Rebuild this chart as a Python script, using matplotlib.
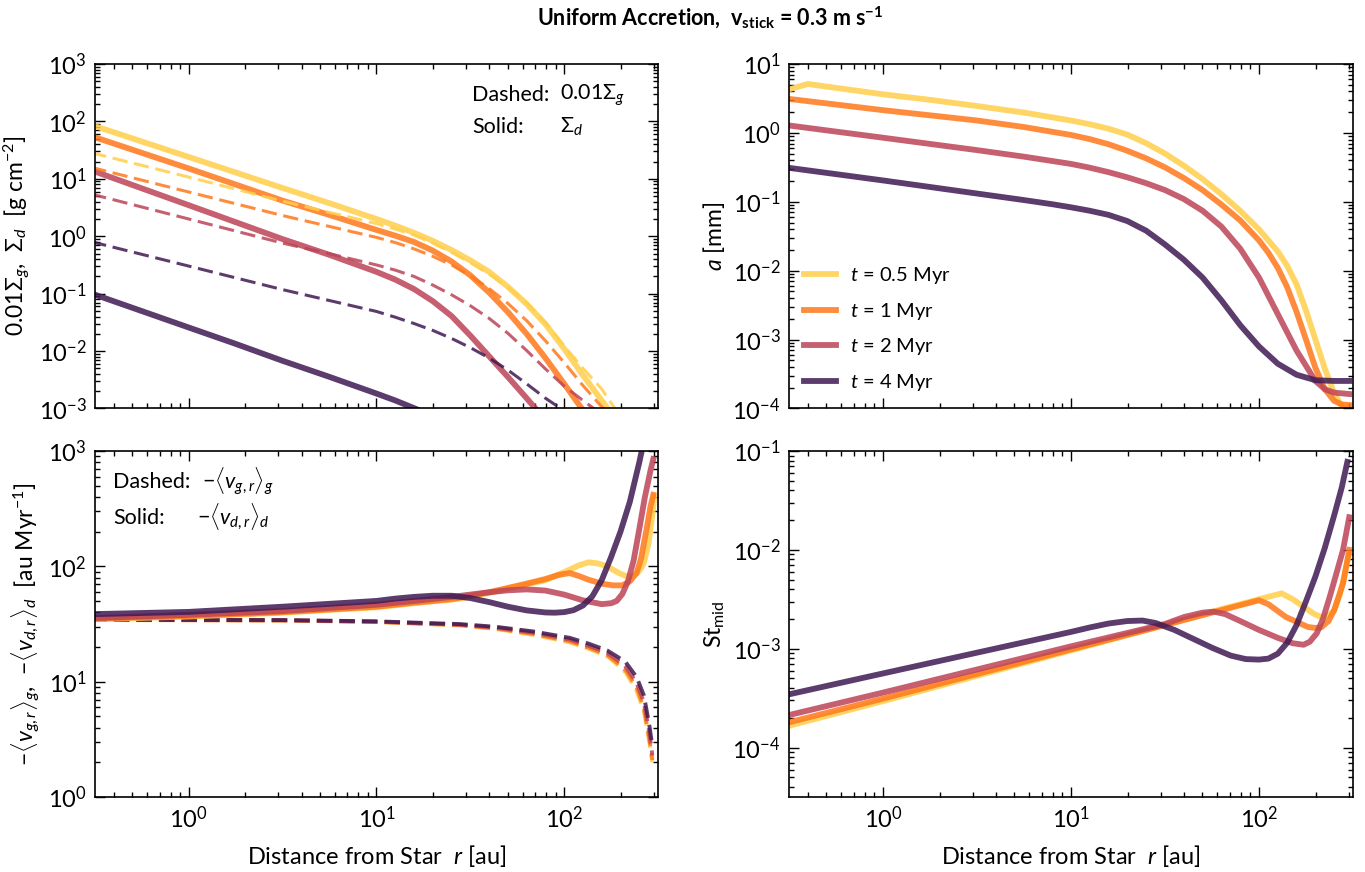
import numpy as np
import matplotlib
matplotlib.use("Agg")
import matplotlib.pyplot as plt
from matplotlib.ticker import LogLocator, NullFormatter

# ---------------- data (log10 values) ----------------
times = ["0.5", "1", "2", "4"]
colors = ["#FFCF4B", "#FF781A", "#BC4457", "#3F1A54"]

# Top-left: dust surface density (solid) and 0.01 * gas surface density (dashed)
lr_sd_05 = [-0.52, 0, 0.5, 0.75, 1.0, 1.1, 1.2, 1.3, 1.4, 1.5, 1.6, 1.7, 1.8, 1.9, 2.0, 2.1, 2.15, 2.2, 2.25]
sd_05 = [1.94, 1.38, 0.84, 0.575, 0.30, 0.185, 0.06, -0.08, -0.24, -0.42, -0.62, -0.88, -1.18, -1.53, -1.96, -2.42, -2.64, -2.86, -3.08]
lr_sd_1 = [-0.52, 0, 0.5, 0.75, 1.0, 1.1, 1.2, 1.3, 1.4, 1.5, 1.6, 1.7, 1.8, 1.9, 2.0, 2.05, 2.1]
sd_1 = [1.745, 1.18, 0.62, 0.37, 0.11, 0.01, -0.10, -0.25, -0.44, -0.68, -0.98, -1.32, -1.70, -2.12, -2.57, -2.80, -3.03]
lr_sd_2 = [-0.52, 0, 0.5, 0.75, 1.0, 1.1, 1.2, 1.3, 1.4, 1.5, 1.6, 1.7, 1.8, 1.86]
sd_2 = [1.15, 0.54, -0.05, -0.325, -0.62, -0.755, -0.92, -1.13, -1.39, -1.73, -2.09, -2.45, -2.82, -3.05]
lr_sd_4 = [-0.52, 0, 0.25, 0.5, 0.75, 1.0, 1.1, 1.22]
sd_4 = [-0.995, -1.59, -1.875, -2.17, -2.45, -2.74, -2.86, -3.02]

lr_sg_05 = [-0.52, 0, 0.5, 1.0, 1.1, 1.2, 1.3, 1.4, 1.5, 1.6, 1.7, 1.8, 1.9, 2.0, 2.1, 2.2, 2.26, 2.28]
sg_05 = [1.455, 1.03, 0.61, 0.22, 0.125, 0.02, -0.12, -0.28, -0.46, -0.66, -0.88, -1.16, -1.50, -1.91, -2.30, -2.66, -2.95, -3.05]
lr_sg_1 = [-0.52, 0, 0.5, 1.0, 1.1, 1.2, 1.3, 1.4, 1.5, 1.6, 1.7, 1.8, 1.9, 2.0, 2.1, 2.2, 2.22]
sg_1 = [1.2, 0.77, 0.36, -0.02, -0.11, -0.22, -0.35, -0.50, -0.69, -0.91, -1.17, -1.47, -1.82, -2.2, -2.6, -2.97, -3.05]
lr_sg_2 = [-0.52, 0, 0.5, 0.75, 1.0, 1.1, 1.2, 1.3, 1.4, 1.5, 1.6, 1.7, 1.8, 1.9, 2.0, 2.1, 2.17]
sg_2 = [0.735, 0.30, -0.12, -0.305, -0.50, -0.59, -0.70, -0.85, -1.02, -1.21, -1.43, -1.69, -1.99, -2.31, -2.61, -2.86, -3.03]
lr_sg_4 = [-0.52, 0, 0.5, 1.0, 1.1, 1.2, 1.3, 1.4, 1.5, 1.6, 1.7, 1.8, 1.9, 2.0, 2.02]
sg_4 = [-0.095, -0.52, -0.93, -1.31, -1.41, -1.52, -1.64, -1.78, -1.94, -2.12, -2.33, -2.57, -2.82, -3.04, -3.08]

# Top-right: grain size a [mm]
lr_a_05 = [-0.52, -0.40, -0.2, 0, 0.25, 0.5, 0.75, 1.0, 1.1, 1.2, 1.3, 1.4, 1.5, 1.6, 1.7, 1.8, 1.9,
           2.0, 2.1, 2.15, 2.2, 2.25, 2.3, 2.35, 2.4, 2.44, 2.48]
a_05 = [0.615, 0.71, 0.635, 0.56, 0.48, 0.39, 0.295, 0.18, 0.125, 0.06, -0.025, -0.15, -0.30, -0.475, -0.67, -0.89, -1.13,
        -1.40, -1.72, -1.93, -2.2, -2.58, -3.0, -3.42, -3.78, -3.97, -4.05]
lr_a_1 = [-0.52, 0, 0.5, 0.75, 1.0, 1.1, 1.2, 1.3, 1.4, 1.5, 1.6, 1.7, 1.8, 1.9, 2.0, 2.05, 2.1,
          2.15, 2.2, 2.25, 2.3, 2.35, 2.4, 2.44, 2.48]
a_1 = [0.50, 0.33, 0.18, 0.085, -0.03, -0.09, -0.165, -0.26, -0.37, -0.50, -0.655, -0.83, -1.04, -1.27, -1.56, -1.74, -1.96,
       -2.24, -2.60, -3.0, -3.41, -3.72, -3.89, -3.94, -3.95]
lr_a_2 = [-0.52, 0, 0.5, 0.75, 1.0, 1.1, 1.2, 1.3, 1.4, 1.5, 1.6, 1.7, 1.8, 1.9, 2.0, 2.1, 2.2,
          2.3, 2.35, 2.4, 2.48]
a_2 = [0.115, -0.07, -0.25, -0.345, -0.45, -0.505, -0.57, -0.645, -0.73, -0.83, -0.96, -1.13, -1.36, -1.68, -2.10, -2.63, -3.16,
       -3.6, -3.72, -3.77, -3.79]
lr_a_4 = [-0.52, 0, 0.5, 0.75, 0.9, 1.0, 1.1, 1.2, 1.3, 1.4, 1.5, 1.6, 1.7, 1.8, 1.9, 2.0, 2.1,
          2.2, 2.3, 2.4, 2.48]
a_4 = [-0.5, -0.69, -0.88, -0.975, -1.035, -1.08, -1.13, -1.19, -1.28, -1.42, -1.62, -1.84, -2.10, -2.43, -2.79, -3.10, -3.35,
       -3.51, -3.59, -3.60, -3.60]

# Bottom-left: radial velocities [au/Myr]
lr_vg = [-0.52, 0.5, 1.0, 1.446, 1.64, 1.837, 2.03, 2.13, 2.23, 2.28, 2.327, 2.386, 2.425, 2.454, 2.47]
vg_05 = [1.535, 1.530, 1.517, 1.487, 1.455, 1.405, 1.34, 1.285, 1.22, 1.15, 1.08, 0.92, 0.74, 0.47, 0.30]
vg_1 = [1.535, 1.531, 1.518, 1.490, 1.460, 1.413, 1.35, 1.295, 1.23, 1.165, 1.10, 0.95, 0.77, 0.50, 0.32]
vg_2 = [1.536, 1.532, 1.520, 1.494, 1.467, 1.424, 1.365, 1.31, 1.25, 1.19, 1.13, 0.99, 0.82, 0.56, 0.36]
vg_4 = [1.537, 1.534, 1.523, 1.499, 1.475, 1.435, 1.38, 1.33, 1.27, 1.22, 1.17, 1.04, 0.88, 0.62, 0.44]

lr_vd_05 = [-0.52, 0, 0.466, 1.0, 1.2, 1.446, 1.6, 1.74, 1.9, 2.0, 2.08, 2.131, 2.18, 2.229, 2.288, 2.33,
            2.37, 2.40, 2.425, 2.45, 2.47, 2.48]
vd_05 = [1.54, 1.565, 1.595, 1.645, 1.68, 1.72, 1.77, 1.82, 1.88, 1.95, 2.01, 2.035, 2.025, 2.0, 1.945, 1.915,
         1.92, 1.96, 2.03, 2.2, 2.45, 2.6]
lr_vd_1 = [-0.52, 0, 0.466, 1.0, 1.2, 1.4, 1.6, 1.8, 1.9, 1.97, 2.03, 2.08, 2.13, 2.2, 2.26, 2.31,
           2.35, 2.386, 2.41, 2.44, 2.46, 2.475]
vd_1 = [1.545, 1.57, 1.60, 1.65, 1.685, 1.715, 1.775, 1.85, 1.89, 1.925, 1.942, 1.915, 1.884, 1.85, 1.835, 1.835,
        1.87, 1.942, 2.07, 2.33, 2.52, 2.62]
lr_vd_2 = [-0.52, 0, 0.5, 1.0, 1.2, 1.4, 1.6, 1.7, 1.8, 1.9, 2.0, 2.1, 2.2, 2.25, 2.28, 2.31,
           2.34, 2.37, 2.4, 2.43, 2.46, 2.475]
vd_2 = [1.55, 1.58, 1.612, 1.667, 1.70, 1.735, 1.775, 1.792, 1.80, 1.79, 1.755, 1.705, 1.672, 1.68, 1.70, 1.76,
        1.87, 2.05, 2.32, 2.6, 2.83, 2.93]
lr_vd_4 = [-0.52, 0, 0.5, 0.8, 1.0, 1.1, 1.2, 1.3, 1.4, 1.5, 1.6, 1.7, 1.8, 1.9, 1.95, 2.0, 2.05,
           2.1, 2.15, 2.2, 2.25, 2.3, 2.35, 2.4, 2.42]
vd_4 = [1.585, 1.605, 1.65, 1.68, 1.70, 1.72, 1.735, 1.745, 1.745, 1.725, 1.69, 1.65, 1.618, 1.60, 1.598, 1.603, 1.62,
        1.66, 1.74, 1.88, 2.08, 2.30, 2.56, 2.90, 3.05]

# Bottom-right: midplane Stokes number
lr_st_05 = [-0.52, 0, 1.0, 1.5, 1.8, 2.0, 2.12, 2.18, 2.237, 2.29, 2.33, 2.37, 2.40, 2.43, 2.456, 2.48]
st_05 = [-3.79, -3.53, -3.017, -2.76, -2.60, -2.50, -2.44, -2.50, -2.575, -2.645, -2.68, -2.665, -2.61, -2.45, -2.24, -2.04]
lr_st_1 = [-0.52, 0, 1.0, 1.5, 1.8, 1.95, 2.0, 2.05, 2.144, 2.26, 2.3, 2.33, 2.37, 2.40, 2.447, 2.48]
st_1 = [-3.754, -3.505, -3.007, -2.76, -2.61, -2.535, -2.51, -2.55, -2.68, -2.78, -2.79, -2.785, -2.72, -2.61, -2.34, -2.0]
lr_st_2 = [-0.52, 0, 1.0, 1.5, 1.6, 1.7, 1.76, 1.82, 1.9, 2.0, 2.1, 2.18, 2.237, 2.27, 2.307, 2.34,
           2.377, 2.41, 2.447, 2.48]
st_2 = [-3.68, -3.444, -2.976, -2.75, -2.68, -2.635, -2.625, -2.65, -2.72, -2.81, -2.89, -2.945, -2.96, -2.93, -2.845, -2.70,
        -2.47, -2.25, -2.0, -1.67]
lr_st_4 = [-0.52, 0, 0.5, 1.0, 1.1, 1.2, 1.3, 1.38, 1.45, 1.55, 1.65, 1.75, 1.85, 1.93, 2.0, 2.05,
           2.1, 2.15, 2.2, 2.25, 2.3, 2.35, 2.4, 2.44, 2.47]
st_4 = [-3.47, -3.25, -3.04, -2.83, -2.785, -2.745, -2.72, -2.715, -2.74, -2.81, -2.90, -2.99, -3.07, -3.105, -3.11, -3.10,
        -3.05, -2.94, -2.76, -2.52, -2.27, -1.98, -1.65, -1.37, -1.11]

# ---------------- style ----------------
plt.rcParams.update({
    "font.family": ["Lato", "DejaVu Sans"],
    "mathtext.fontset": "custom",
    "mathtext.rm": "Lato",
    "mathtext.it": "Lato:italic",
    "mathtext.bf": "Lato:bold",
    "mathtext.sf": "Lato",
    "font.size": 15,
    "axes.linewidth": 1.2,
})

def p(v):
    return 10 ** np.asarray(v, dtype=float)

fig = plt.figure(figsize=(13.65, 8.72), dpi=100)
W, H = 1365.0, 872.0
def box(x0, x1, y0, y1):
    return [x0 / W, 1 - y1 / H, (x1 - x0) / W, (y1 - y0) / H]

ax_tl = fig.add_axes(box(95, 658, 64, 408.5))
ax_tr = fig.add_axes(box(789, 1353, 64, 408.5))
ax_bl = fig.add_axes(box(95, 658, 451, 797))
ax_br = fig.add_axes(box(789, 1353, 451, 797))

XLIM = (10 ** -0.5, 10 ** 2.5)
for ax in (ax_tl, ax_tr, ax_bl, ax_br):
    ax.set_xscale("log")
    ax.set_yscale("log")
    ax.set_xlim(*XLIM)
    ax.xaxis.set_major_locator(LogLocator(base=10, numticks=30))
    ax.yaxis.set_major_locator(LogLocator(base=10, numticks=30))
    ax.xaxis.set_minor_locator(LogLocator(base=10, subs=np.arange(2, 10), numticks=30))
    ax.yaxis.set_minor_locator(LogLocator(base=10, subs=np.arange(2, 10), numticks=30))
    ax.xaxis.set_minor_formatter(NullFormatter())
    ax.yaxis.set_minor_formatter(NullFormatter())
    ax.tick_params(which="both", direction="in", top=True, right=True, width=1.0)
    ax.tick_params(which="major", length=7)
    ax.tick_params(which="minor", length=3.5)
    ax.tick_params(axis="both", labelsize=17, pad=6)

for ax in (ax_tl, ax_tr):
    ax.tick_params(labelbottom=False)

LW = 4.2
LAB = 16.5
ANN = 15.5
# ---- top-left ----
ax_tl.set_ylim(1e-3, 1e3)
sd_r = [lr_sd_05, lr_sd_1, lr_sd_2, lr_sd_4]
sd_v = [sd_05, sd_1, sd_2, sd_4]
sg_r = [lr_sg_05, lr_sg_1, lr_sg_2, lr_sg_4]
sg_v = [sg_05, sg_1, sg_2, sg_4]
for r, v, c in zip(sd_r, sd_v, colors):
    ax_tl.plot(p(r), p(v), color=c, lw=LW, alpha=0.85)
for r, v, c in zip(sg_r, sg_v, colors):
    ax_tl.plot(p(r), p(v), color=c, lw=2.2, alpha=0.85, ls=(0, (5, 2.2)))
ax_tl.set_ylabel(r"$0.01\Sigma_g$,  $\Sigma_d$  [g cm$^{-2}$]", fontsize=LAB)
ax_tl.text(0.67, 0.91, "Dashed:", transform=ax_tl.transAxes, va="center", ha="left", fontsize=ANN)
ax_tl.text(0.826, 0.91, r"$0.01\Sigma_g$", transform=ax_tl.transAxes, va="center", ha="left", fontsize=ANN)
ax_tl.text(0.67, 0.818, "Solid:", transform=ax_tl.transAxes, va="center", ha="left", fontsize=ANN)
ax_tl.text(0.826, 0.818, r"$\Sigma_d$", transform=ax_tl.transAxes, va="center", ha="left", fontsize=ANN)

# ---- top-right ----
ax_tr.set_ylim(1e-4, 1e1)
a_r = [lr_a_05, lr_a_1, lr_a_2, lr_a_4]
a_v = [a_05, a_1, a_2, a_4]
for r, v, c, t in zip(a_r, a_v, colors, times):
    ax_tr.plot(p(r), p(v), color=c, lw=LW, alpha=0.85, label=r"$t$ = %s Myr" % t)
ax_tr.set_ylabel(r"$a$ [mm]", fontsize=LAB)
ax_tr.legend(loc="lower left", frameon=False, handlelength=1.6, handletextpad=0.7,
             labelspacing=0.74, borderaxespad=0.55, borderpad=0.2, fontsize=14.5)

# ---- bottom-left ----
ax_bl.set_ylim(1, 1e3)
vg_v = [vg_05, vg_1, vg_2, vg_4]
vd_r = [lr_vd_05, lr_vd_1, lr_vd_2, lr_vd_4]
vd_v = [vd_05, vd_1, vd_2, vd_4]
for v, c in zip(vg_v, colors):
    ax_bl.plot(p(lr_vg), p(v), color=c, lw=2.8, alpha=0.85, ls=(0, (4, 1.8)))
for r, v, c in zip(vd_r, vd_v, colors):
    ax_bl.plot(p(r), p(v), color=c, lw=LW, alpha=0.85)
ax_bl.set_ylabel(r"$-\langle v_{g,r}\rangle_g$,  $-\langle v_{d,r}\rangle_d$  [au Myr$^{-1}$]", fontsize=LAB)
ax_bl.set_xlabel(r"Distance from Star  $r$ [au]", fontsize=17, labelpad=8)
ax_bl.text(0.032, 0.911, "Dashed:", transform=ax_bl.transAxes, va="center", ha="left", fontsize=ANN)
ax_bl.text(0.19, 0.911, r"$-\langle v_{g,r}\rangle_g$", transform=ax_bl.transAxes, va="center", ha="left", fontsize=ANN)
ax_bl.text(0.032, 0.807, "Solid:", transform=ax_bl.transAxes, va="center", ha="left", fontsize=ANN)
ax_bl.text(0.181, 0.807, r"$-\langle v_{d,r}\rangle_d$", transform=ax_bl.transAxes, va="center", ha="left", fontsize=ANN)

# ---- bottom-right ----
ax_br.set_ylim(10 ** -4.5, 1e-1)
st_r = [lr_st_05, lr_st_1, lr_st_2, lr_st_4]
st_v = [st_05, st_1, st_2, st_4]
for r, v, c in zip(st_r, st_v, colors):
    ax_br.plot(p(r), p(v), color=c, lw=LW, alpha=0.85)
ax_br.set_ylabel(r"St$_{\mathrm{mid}}$", fontsize=LAB)
ax_br.set_xlabel(r"Distance from Star  $r$ [au]", fontsize=17, labelpad=8)

fig.text(0.52, 0.979, r"Uniform Accretion,  $\mathbf{v}_{\mathbf{stick}}$ = 0.3 m s$^{\mathbf{-1}}$",
         ha="center", va="center", fontsize=15.5, fontweight="bold")

fig.savefig("out.png", dpi=100)
